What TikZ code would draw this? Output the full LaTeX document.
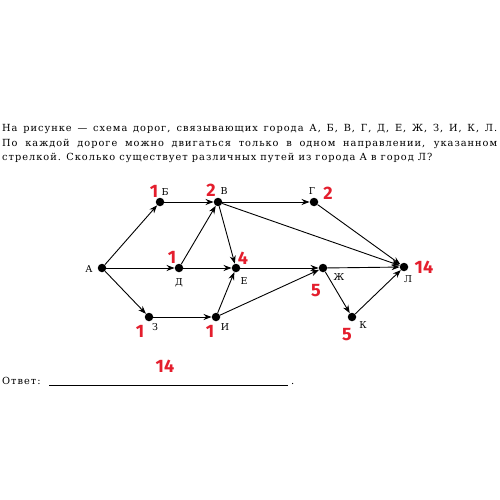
\documentclass[tikz,border=0pt]{standalone}
\usepackage{fontspec}
\setmainfont{DejaVu Serif}[LetterSpace=10]
\newfontfamily\handfont{Fira Sans}
\usetikzlibrary{arrows.meta}

\definecolor{inkred}{RGB}{228,30,45}

\begin{document}
\begin{tikzpicture}[x=1pt, y=-1pt,
    city/.style={circle, fill=black, inner sep=0pt, minimum size=8.5pt},
    road/.style={-{Stealth[length=8pt, width=6pt]}, line width=0.9pt},
    tag/.style={font=\fontsize{9.5}{11}\selectfont, inner sep=0pt},
    redmark/.style={text=inkred, font=\handfont\bfseries\fontsize{18}{18}\selectfont, inner sep=0pt}]
    \useasboundingbox[fill=white] (0,0) rectangle (500,500);

    % Task text
    \node[anchor=north west, text width=495pt, align=justify, inner sep=0pt,
          font=\fontsize{9.8}{14.4}\selectfont] (task) at (2,124.5)
        {На рисунке — схема дорог, связывающих города А, Б, В, Г, Д, Е, Ж, З, И, К, Л.\linebreak
         По каждой дороге можно двигаться только в одном направлении, указанном\linebreak
         стрелкой. Сколько существует различных путей из города А в город Л?};

    % Cities
    \node[city] (A) at (102,268) {};
    \node[city] (B) at (160,202) {};
    \node[city] (V) at (218,202) {};
    \node[city] (G) at (314,202) {};
    \node[city] (D) at (179,268) {};
    \node[city] (E) at (236,268) {};
    \node[city] (Zh) at (323,268) {};
    \node[city] (Z) at (149,317) {};
    \node[city] (I) at (216,317) {};
    \node[city] (K) at (352,317) {};
    \node[city] (L) at (404,267) {};

    % City names
    \node[tag] (lA) at (89,269) {А};
    \node[tag] (lB) at (165,192) {Б};
    \node[tag] (lV) at (224,191) {В};
    \node[tag] (lG) at (312,191) {Г};
    \node[tag] (lD) at (179,283) {Д};
    \node[tag] (lE) at (244,281) {Е};
    \node[tag] (lZh) at (339,277) {Ж};
    \node[tag] (lZ) at (155,327) {З};
    \node[tag] (lI) at (225,327) {И};
    \node[tag] (lK) at (363,325) {К};
    \node[tag] (lL) at (408,279) {Л};

    % Roads
    \draw[road] (A) -- (B);
    \draw[road] (A) -- (D);
    \draw[road] (A) -- (Z);
    \draw[road] (B) -- (V);
    \draw[road] (D) -- (V);
    \draw[road] (D) -- (E);
    \draw[road] (Z) -- (I);
    \draw[road] (I) -- (E);
    \draw[road] (V) -- (E);
    \draw[road] (V) -- (G);
    \draw[road] (V) -- (L);
    \draw[road] (G) -- (L);
    \draw[road] (E) -- (Zh);
    \draw[road] (I) -- (Zh);
    \draw[road] (Zh) -- (L);
    \draw[road] (Zh) -- (K);
    \draw[road] (K) -- (L);

    % Handwritten counts
    \node[redmark] (nB) at (154,191) {1};
    \node[redmark] (nV) at (211,190) {2};
    \node[redmark] (nG) at (328,193) {2};
    \node[redmark] (nD) at (172,257) {1};
    \node[redmark] (nE) at (243,258) {4};
    \node[redmark] (nZh) at (316,291) {5};
    \node[redmark] (nK) at (347,335) {5};
    \node[redmark] (nL) at (424,267) {14};
    \node[redmark] (nZ) at (140,331) {1};
    \node[redmark] (nI) at (210,331) {1};

    % Answer line
    \node[anchor=base west, inner sep=0pt, font=\fontsize{9.8}{12}\selectfont] (answer) at (2,384) {Ответ:};
    \draw[line width=0.6pt] (49,385.5) -- (288,385.5);
    \node[anchor=base west, inner sep=0pt] (dot) at (291,384) {.};
    \node[redmark] (nAns) at (165,366) {14};
\end{tikzpicture}
\end{document}
